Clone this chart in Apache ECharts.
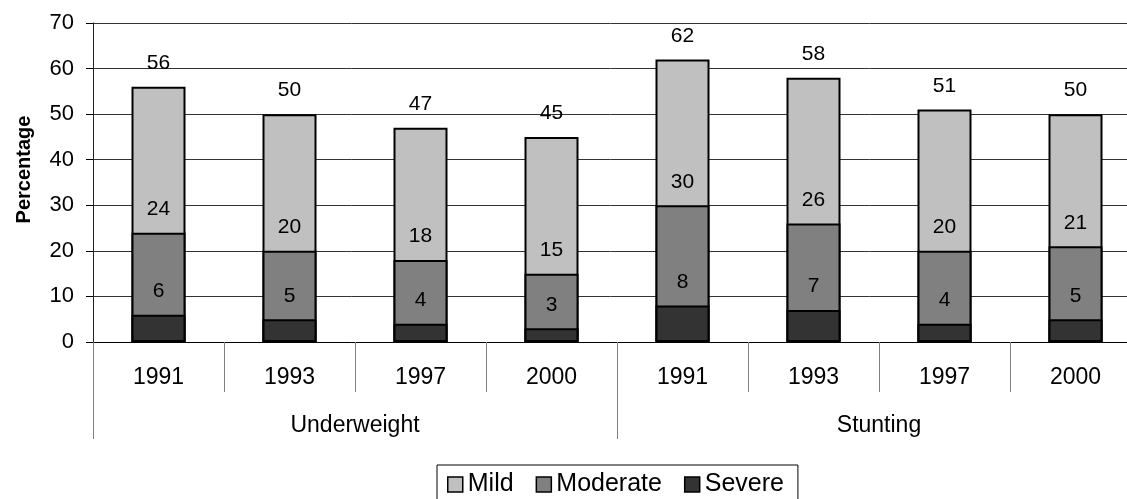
<!DOCTYPE html>
<html>
<head>
<meta charset="utf-8">
<script src="https://cdn.jsdelivr.net/npm/echarts@6/dist/echarts.min.js"></script>
<style>
  html, body { margin: 0; padding: 0; background: #fff; }
  #chart { width: 1127px; height: 499px; }
</style>
</head>
<body>
<div id="chart"></div>
<script>
// Survey years shown under each bar, and the two indicator groups below them
const years = ['1991', '1993', '1997', '2000', '1991', '1993', '1997', '2000'];
const groups = ['Underweight', 'Stunting'];

// Cumulative prevalence (%): mild+moderate+severe, moderate+severe, severe
const mild = [56, 50, 47, 45, 62, 58, 51, 50];
const moderate = [24, 20, 18, 15, 30, 26, 20, 21];
const severe = [6, 5, 4, 3, 8, 7, 4, 5];

const FONT = "'Liberation Sans', Arial, sans-serif";

const chart = echarts.init(document.getElementById('chart'), null, { renderer: 'canvas' });

function barSeries(name, data, color) {
  return {
    name: name,
    type: 'bar',
    xAxisIndex: 0,
    data: data,
    barWidth: 54,
    barGap: '-100%',
    itemStyle: { color: color, borderColor: '#000', borderWidth: 2 },
    label: {
      show: true,
      position: 'top',
      distance: 13,
      fontSize: 21,
      fontFamily: FONT,
      color: '#000'
    },
    emphasis: { disabled: true }
  };
}

chart.setOption({
  animation: false,
  backgroundColor: '#fff',
  textStyle: { fontFamily: FONT },
  grid: { left: 93, right: -14, top: 23, bottom: 157, containLabel: false, outerBoundsMode: 'none' },
  legend: {
    data: ['Mild', 'Moderate', 'Severe'],
    left: 437,
    top: 465,
    orient: 'horizontal',
    icon: 'rect',
    itemWidth: 15,
    itemHeight: 15,
    itemGap: 22,
    padding: [7, 14, 10, 10],
    borderColor: '#000',
    borderWidth: 1,
    itemStyle: { borderColor: '#000', borderWidth: 1.5 },
    textStyle: { fontSize: 25, fontFamily: FONT, color: '#000' }
  },
  xAxis: [
    {
      type: 'category',
      position: 'bottom',
      data: years,
      axisLine: { show: true, lineStyle: { color: '#000', width: 1 } },
      axisTick: { show: true, interval: 0, length: 50, alignWithLabel: false, lineStyle: { color: '#808080' } },
      axisLabel: { interval: 0, fontSize: 23, margin: 24, color: '#000', fontFamily: FONT },
      splitLine: { show: false }
    },
    {
      type: 'category',
      position: 'bottom',
      offset: 0,
      data: groups,
      axisLine: { show: false },
      axisTick: { show: true, interval: 0, length: 97, alignWithLabel: false, lineStyle: { color: '#808080' } },
      axisLabel: { interval: 0, fontSize: 23, margin: 72, color: '#000', fontFamily: FONT },
      splitLine: { show: false }
    }
  ],
  yAxis: {
    type: 'value',
    min: 0,
    max: 70,
    interval: 10,
    name: 'Percentage',
    nameLocation: 'middle',
    nameRotate: 90,
    nameGap: 59,
    nameTextStyle: { fontSize: 20, fontWeight: 'bold', color: '#000', fontFamily: FONT, padding: [0, 0, 0, 26] },
    axisLine: { show: true, lineStyle: { color: '#222', width: 1 } },
    axisTick: { show: true, length: 7, lineStyle: { color: '#000' } },
    axisLabel: { fontSize: 22, margin: 19, color: '#000', fontFamily: FONT },
    splitLine: { show: true, lineStyle: { color: '#333', width: 1 } }
  },
  series: [
    barSeries('Mild', mild, '#c0c0c0'),
    barSeries('Moderate', moderate, '#808080'),
    barSeries('Severe', severe, '#333333')
  ]
});
</script>
</body>
</html>
